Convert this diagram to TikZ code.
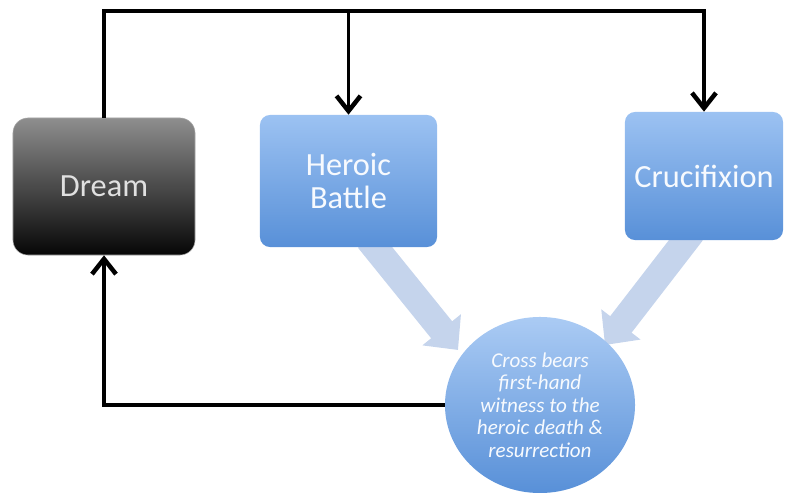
\documentclass[tikz,border=0pt]{standalone}
\usepackage{fontspec}
\setmainfont{Carlito}
\usetikzlibrary{arrows.meta,shapes.geometric,backgrounds}
\definecolor{boxtop}{RGB}{156,194,242}
\definecolor{boxbot}{RGB}{88,144,216}
\definecolor{dreamtop}{RGB}{142,142,142}
\definecolor{dreambot}{RGB}{6,6,6}
\definecolor{wide}{RGB}{197,212,236}
\tikzset{
  box/.style={rounded corners=0.25cm,minimum width=4.425cm,minimum height=3.3cm,
    top color=boxtop,bottom color=boxbot,text=white!92!boxtop,align=center,
    font=\fontsize{23}{24}\selectfont},
  dreambox/.style={box,rounded corners=0.375cm,minimum width=4.55cm,minimum height=3.425cm,
    top color=dreamtop,bottom color=dreambot,draw=gray!70,text=white!88!black},
  witness/.style={ellipse,minimum width=4.75cm,minimum height=4.4cm,inner sep=0pt,
    top color=boxtop!85!white,bottom color=boxbot,text=white!92!boxtop,align=center,
    font=\fontsize{15}{16}\selectfont\itshape},
  flow/.style={line width=2.8pt,-{Straight Barb[width=0.6cm,length=0.38cm,line width=3.2pt]}},
  bigarrow/.style={draw=wide,line width=0.675cm,-{Triangle[width=1.2cm,length=0.65cm]}}
}
\begin{document}
\begin{tikzpicture}[x=0.025cm,y=-0.025cm]
    \useasboundingbox (0,0) rectangle (785,493);
    \node[dreambox] (dream) at (104,186.5) {Dream};
    \node[box] (battle) at (348.5,181) {Heroic\\Battle};
    \node[box,minimum width=3.95cm,minimum height=3.2cm] (cross) at (704,176) {Crucifixion};
    \node[witness] (death) at (540,405) {Cross bears\\first-hand\\witness to the\\heroic death \&\\resurrection};
    \coordinate (top) at (104,11);
    \coordinate (tipa) at (458,350);
    \coordinate (tipb) at (605,345);
    \draw[flow] (dream.north) -- (top) -| (cross.north);
    \draw[flow] (battle.north |- top) -- (battle.north);
    \draw[flow] (death.west) -| (dream.south);
    \begin{pgfonlayer}{background}
        \draw[bigarrow] ([xshift=0.5cm,yshift=0.2cm]battle.south) -- (tipa);
        \draw[bigarrow] ([xshift=-0.3cm,yshift=0.2cm]cross.south) -- (tipb);
    \end{pgfonlayer}
\end{tikzpicture}
\end{document}
